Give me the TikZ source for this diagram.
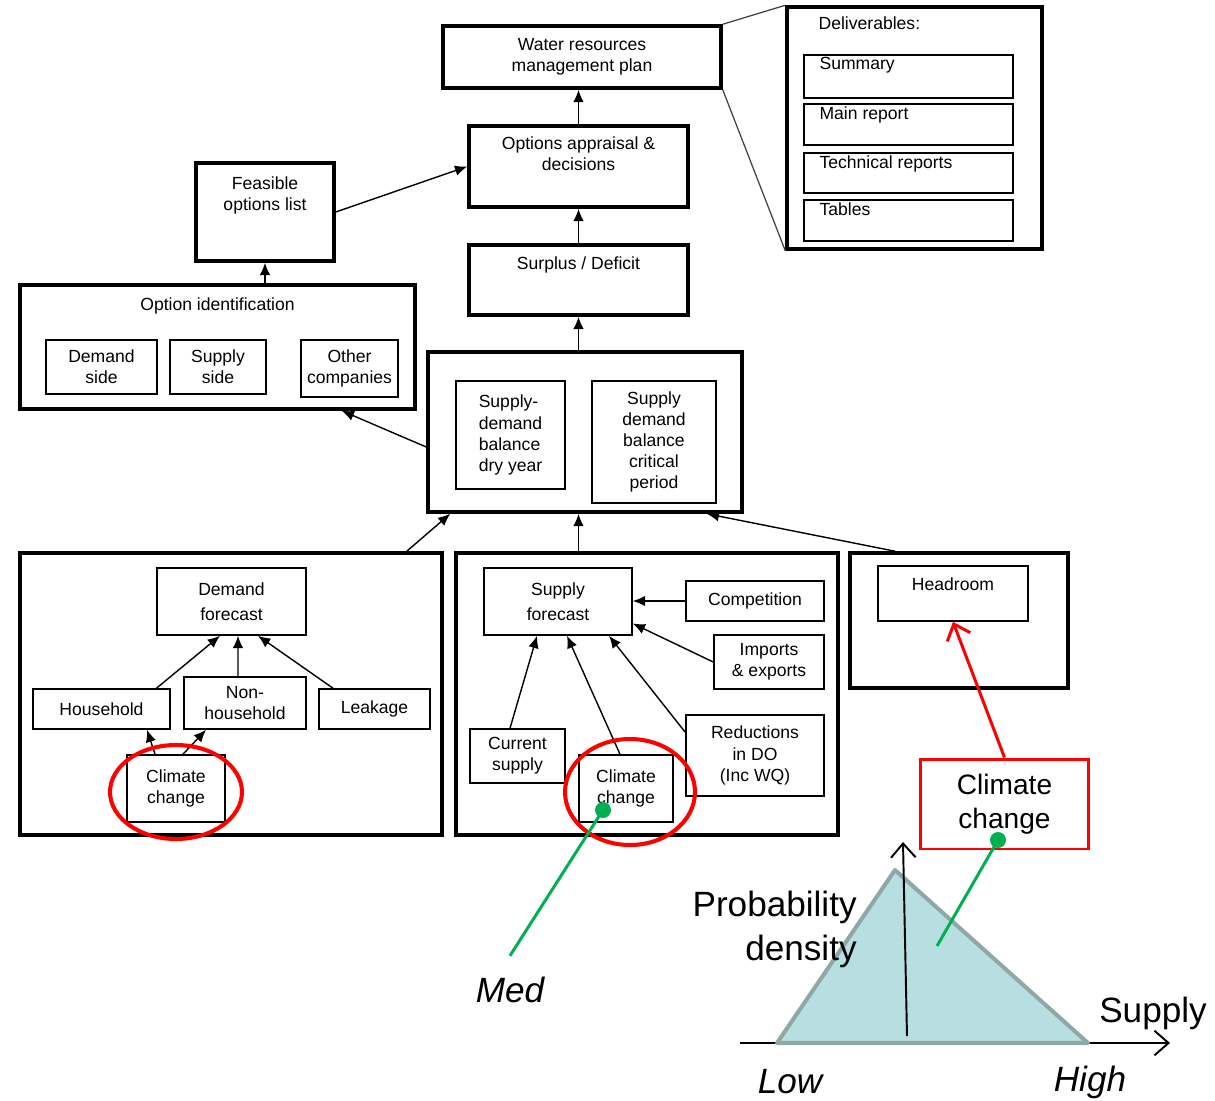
\documentclass[tikz,border=0pt]{standalone}
\usepackage{fontspec}
\setmainfont{Liberation Sans}
\usetikzlibrary{arrows.meta}

\definecolor{ccred}{HTML}{FF0000}
\definecolor{ccgreen}{HTML}{00B050}
\definecolor{trifill}{HTML}{B7DEE0}
\definecolor{triedge}{HTML}{8FA7A7}

\begin{document}
\begin{tikzpicture}[x=0.02cm, y=-0.02cm,
    every node/.style={font=\fontsize{10}{12}\selectfont, inner sep=0pt},
    thickbox/.style={draw, rectangle, line width=2pt, align=center},
    thinbox/.style={draw, rectangle, line width=0.9pt, align=center},
    toplabel/.style={anchor=north, align=center},
    sublabel/.style={anchor=north west, xshift=0.32cm, yshift=-0.06cm},
    flow/.style={-{Latex[length=7pt,width=6pt]}, line width=0.8pt},
    linkline/.style={line width=0.7pt, black!75},
    openarrow/.style={-{Straight Barb[length=8pt,width=14pt]}},
    redring/.style={draw=ccred, line width=2.3pt},
    bigtext/.style={font=\fontsize{20}{25}\selectfont},
    italtext/.style={font=\fontsize{20}{25}\selectfont\itshape}]

    \useasboundingbox (0,0) rectangle (1215,1100);

    % Nodo para el plan de gestion
    \node (wrmp) [thickbox, minimum width=5.56cm, minimum height=1.24cm] at (582,57)
    {Water resources\\management plan};

    % Nodo para los entregables
    \node (deliv) [thickbox, minimum width=5.1cm, minimum height=4.84cm,
        label={[anchor=north west, xshift=0.66cm, yshift=-0.22cm]north west:{Deliverables:}}] at (914.5,128) {};
    \node (summary) [thinbox, minimum width=4.18cm, minimum height=0.86cm,
        label={[sublabel]north west:{Summary}}] at (908.5,76.5) {};
    \node (mainrep) [thinbox, minimum width=4.18cm, minimum height=0.82cm,
        label={[sublabel]north west:{Main report}}] at (908.5,124.5) {};
    \node (techrep) [thinbox, minimum width=4.18cm, minimum height=0.8cm,
        label={[sublabel]north west:{Technical reports}}] at (908.5,173) {};
    \node (tables) [thinbox, minimum width=4.18cm, minimum height=0.82cm,
        label={[sublabel]north west:{Tables}}] at (908.5,220.5) {};
    \draw[linkline] (wrmp.north east) -- (deliv.north west);
    \draw[linkline] (wrmp.south east) -- (deliv.south west);

    % Cadena central
    \node (optapp) [thickbox, minimum width=4.38cm, minimum height=1.62cm,
        label={[toplabel, yshift=-0.24cm]north:{Options appraisal \&\\decisions}}] at (578.5,166.5) {};
    \node (surplus) [thickbox, minimum width=4.38cm, minimum height=1.4cm,
        label={[toplabel, yshift=-0.26cm]north:{Surplus / Deficit}}] at (578.5,280) {};
    \node (balance) [thickbox, minimum width=6.28cm, minimum height=3.2cm] at (585,432) {};
    \node (dryyear) [thinbox, align=left, minimum width=2.18cm, minimum height=2.16cm] at (510.5,435)
    {Supply-\\demand\\balance\\dry year};
    \node (critical) [thinbox, minimum width=2.48cm, minimum height=2.44cm] at (654,442)
    {Supply\\demand\\balance\\critical\\period};

    \draw[flow] (optapp.north) -- (optapp.north |- wrmp.south);
    \draw[flow] (surplus.north) -- (surplus.north |- optapp.south);
    \draw[flow] (surplus.south |- balance.north) -- (surplus.south);

    % Identificacion de opciones
    \node (feasible) [thickbox, minimum width=2.76cm, minimum height=1.96cm,
        label={[toplabel, yshift=-0.3cm]north:{Feasible\\options list}}] at (265,212) {};
    \node (optid) [thickbox, minimum width=7.9cm, minimum height=2.48cm,
        label={[toplabel, yshift=-0.28cm]north:{Option identification}}] at (217.5,347) {};
    \node (demside) [thinbox, minimum width=2.22cm, minimum height=1.08cm] at (101.5,367) {Demand\\side};
    \node (supside) [thinbox, minimum width=1.92cm, minimum height=1.08cm] at (218,367) {Supply\\side};
    \node (others) [thinbox, minimum width=1.94cm, minimum height=1.14cm] at (349.5,368.5) {Other\\companies};

    \draw[flow] (feasible.east) -- (optapp.west);
    \draw[flow] (feasible.south |- optid.north) -- (feasible.south);
    \draw[flow] ([yshift=-0.3cm]balance.west) -- ([xshift=-1.5cm]optid.south east);

    % Prevision de demanda
    \node (dembox) [thickbox, minimum width=8.44cm, minimum height=5.64cm] at (231,694) {};
    \node (demfc) [thinbox, minimum width=2.98cm, minimum height=1.34cm] at (231.5,601.5) {Demand\\[2pt]forecast};
    \node (house) [thinbox, minimum width=2.74cm, minimum height=0.8cm] at (101.5,709) {Household};
    \node (nonhouse) [thinbox, minimum width=2.44cm, minimum height=1.04cm] at (245,703) {Non-\\household};
    \node (leak) [thinbox, minimum width=2.22cm, minimum height=0.8cm] at (374.5,709) {Leakage};
    \node (ccdem) [thinbox, minimum width=1.96cm, minimum height=1.34cm] at (176,788.5) {Climate\\change};

    \draw[flow] ([xshift=1.1cm]house.north) -- ([xshift=-0.23cm]demfc.south);
    \draw[flow] ([xshift=-0.14cm]nonhouse.north) -- ([xshift=0.13cm]demfc.south);
    \draw[flow] ([xshift=-0.83cm]leak.north) -- ([xshift=0.53cm]demfc.south);
    \draw[flow] ([xshift=-0.42cm]ccdem.north) -- ([xshift=0.91cm]house.south);
    \draw[flow] ([xshift=0.14cm]ccdem.north) -- ([xshift=-0.78cm]nonhouse.south);

    % Prevision de oferta
    \node (supbox) [thickbox, minimum width=7.64cm, minimum height=5.64cm] at (647,694) {};
    \node (supfc) [thinbox, minimum width=2.96cm, minimum height=1.34cm] at (558,601.5) {Supply\\[2pt]forecast};
    \node (compet) [thinbox, minimum width=2.76cm, minimum height=0.8cm] at (755,601) {Competition};
    \node (imports) [thinbox, minimum width=2.2cm, minimum height=1.08cm] at (769,662) {Imports\\\& exports};
    \node (current) [thinbox, minimum width=1.9cm, minimum height=1.08cm] at (517.5,756) {Current\\supply};
    \node (ccsup) [thinbox, minimum width=1.88cm, minimum height=1.34cm] at (626,788.5) {Climate\\change};
    \node (reduct) [thinbox, minimum width=2.76cm, minimum height=1.62cm] at (755,755.5) {Reductions\\in DO\\(Inc WQ)};

    \draw[flow] (compet.west) -- (compet.west -| supfc.east);
    \draw[flow] (imports.west) -- ([yshift=-0.44cm]supfc.east);
    \draw[flow] ([xshift=-0.15cm]current.north) -- ([xshift=-0.42cm]supfc.south);
    \draw[flow] ([xshift=-0.12cm]ccsup.north) -- ([xshift=0.18cm]supfc.south);
    \draw[flow] ([yshift=-0.36cm]reduct.north west) -- ([xshift=1.02cm]supfc.south);

    % Margen de seguridad
    \node (headbox) [thickbox, minimum width=4.36cm, minimum height=2.7cm] at (959,620.5) {};
    \node (headroom) [thinbox, minimum width=3cm, minimum height=1.1cm,
        label={[toplabel, yshift=-0.24cm]north:{Headroom}}] at (953,593.5) {};

    % Flechas hacia el balance
    \draw[flow] ([xshift=-0.74cm]dembox.north east) -- ([xshift=0.48cm]balance.south west);
    \draw[flow] (surplus.south |- supbox.north) -- (surplus.south |- balance.south);
    \draw[flow] ([xshift=0.94cm]headbox.north west) -- ([xshift=-0.74cm]balance.south east);

    % Circulos rojos
    \draw[redring] ([yshift=-0.07cm]ccdem.center) ellipse [x radius=1.32cm, y radius=0.94cm];
    \draw[redring] ([xshift=0.08cm, yshift=-0.07cm]ccsup.center) ellipse [x radius=1.3cm, y radius=1.06cm];

    % Cambio climatico sobre el margen
    \node (ccred) [draw=ccred, line width=1.7pt, align=center, minimum width=3.38cm, minimum height=1.8cm,
        font=\fontsize{16}{19.5}\selectfont] at (1004.5,804) {Climate\\change};
    \draw[ccred, line width=1.7pt, openarrow] (ccred.north) -- (headroom.south);

    % Distribucion triangular
    \coordinate (xstart) at (740,1043);
    \coordinate (xend) at (1170,1043);
    \coordinate (tlow) at (777,1043);
    \coordinate (tpeak) at (895,870);
    \coordinate (thigh) at (1088,1043);
    \coordinate (ybase) at (907,1036);
    \coordinate (ytop) at (903,842);
    \draw[line width=1.1pt, openarrow] (xstart) -- (xend);
    \filldraw[fill=trifill, draw=triedge, line width=2.3pt, line join=round] (tlow) -- (tpeak) -- (thigh) -- cycle;
    \draw[line width=1.1pt, openarrow] (ybase) -- (ytop);

    \node (prob) [bigtext, align=right, anchor=east] at (857,929) {Probability\\density};
    \node (supplbl) [bigtext] at (1153,1013) {Supply};
    \node (lowlbl) [italtext] at (790,1082) {Low};
    \node (highlbl) [italtext] at (1090,1082) {High};
    \node (med) [italtext] at (510,990) {Med};

    % Lineas verdes
    \coordinate (gsup) at (603,810);
    \coordinate (ghead) at (998,840);
    \coordinate (gtri) at (937,946);
    \draw[ccgreen, line width=1.7pt] (gsup) -- ([yshift=0.42cm]med.north);
    \fill[ccgreen] (gsup) circle [radius=0.16cm];
    \draw[ccgreen, line width=1.7pt] (ghead) -- (gtri);
    \fill[ccgreen] (ghead) circle [radius=0.16cm];

\end{tikzpicture}
\end{document}
